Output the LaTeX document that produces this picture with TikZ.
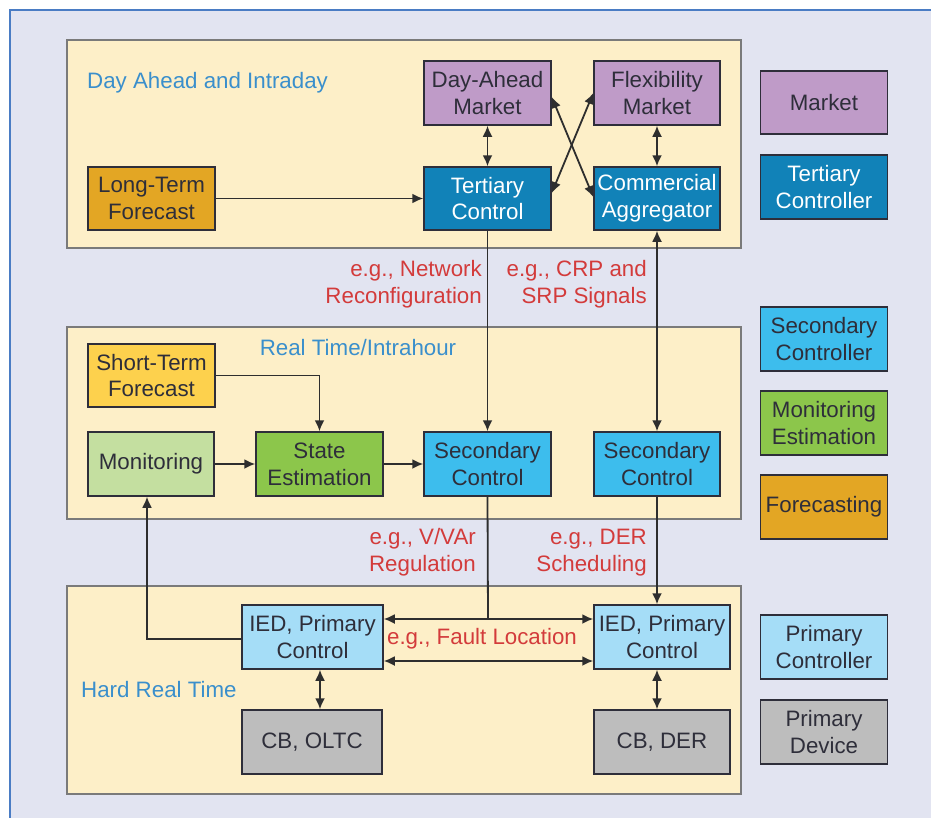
\documentclass[tikz,border=0pt]{standalone}
\usepackage{fontspec}
\setmainfont{Liberation Sans}
\usetikzlibrary{arrows.meta}
\definecolor{bgc}{HTML}{E2E4F1}
\definecolor{framec}{HTML}{4A7CC4}
\definecolor{panelc}{HTML}{FDEFC8}
\definecolor{panelb}{HTML}{7A7A7A}
\definecolor{marketc}{HTML}{BF9BC8}
\definecolor{tertc}{HTML}{1182B8}
\definecolor{secc}{HTML}{3DBDED}
\definecolor{estc}{HTML}{8CC64B}
\definecolor{monc}{HTML}{C4DFA0}
\definecolor{forec}{HTML}{E3A624}
\definecolor{sforec}{HTML}{FDD14D}
\definecolor{primc}{HTML}{A5DDF7}
\definecolor{devc}{HTML}{BDBDBD}
\definecolor{txtc}{HTML}{2E2E3A}
\definecolor{redc}{HTML}{D33B3B}
\definecolor{bluec}{HTML}{3A8FCC}
\definecolor{linec}{HTML}{2E2E2E}
\begin{document}
\begin{tikzpicture}[x=1bp,y=-1bp,
  every node/.style={font=\fontsize{22.4}{26.8}\selectfont},
  box/.style={draw=txtc, line width=1.5bp, inner sep=0pt, align=center,
    text=txtc, minimum width=127bp, minimum height=64bp},
  panel/.style={draw=panelb, fill=panelc, line width=2bp},
  redlbl/.style={text=redc, align=right, inner sep=0pt},
  bluelbl/.style={text=bluec, inner sep=0pt},
  conn/.style={draw=linec, line width=1.8bp},
  tip/.style={-{Latex[length=11bp,width=10bp]}},
  dtip/.style={{Latex[length=11bp,width=10bp]}-{Latex[length=11bp,width=10bp]}}]
\useasboundingbox (0,0) rectangle (931,818);
\fill[white] (0,0) rectangle (931,818);
\fill[bgc] (10,10) rectangle (945,830);
\draw[framec, line width=2.2bp] (10,830) -- (10,10) -- (945,10);
% panels
\draw[panel] (67,40) rectangle (741,248);
\draw[panel] (67,327) rectangle (741,519);
\draw[panel] (67,586) rectangle (741,794);
% panel labels
\node[bluelbl, anchor=west] (lblday) at (87,83) {Day Ahead and Intraday};
\node[bluelbl] (lblrt) at (358,348) {Real Time/Intrahour};
\node[bluelbl, anchor=west] (lblhrt) at (81,690) {Hard Real Time};
% top panel
\node[box, fill=marketc] (dam) at (487.5,93) {Day-Ahead\\Market};
\node[box, fill=marketc, minimum width=126bp] (fm) at (657,93) {Flexibility\\Market};
\node[box, fill=forec, minimum height=63bp] (ltf) at (151.5,198.5) {Long-Term\\Forecast};
\node[box, fill=tertc, text=white, minimum height=63bp] (tc) at (487.5,198.5) {Tertiary\\Control};
\node[box, fill=tertc, text=white, minimum width=126bp, minimum height=63bp] (ca) at (657,198.5) {Commercial\\Aggregator};
% middle panel
\node[box, fill=sforec, minimum height=63bp] (stf) at (151.5,375.5) {Short-Term\\Forecast};
\node[box, fill=monc, minimum width=126bp] (mon) at (151,464) {Monitoring};
\node[box, fill=estc] (se) at (319.5,464) {State\\Estimation};
\node[box, fill=secc] (sc1) at (487.5,464) {Secondary\\Control};
\node[box, fill=secc, minimum width=126bp] (sc2) at (657,464) {Secondary\\Control};
% bottom panel
\node[box, fill=primc, minimum width=141bp] (ied1) at (312.5,637) {IED, Primary\\Control};
\node[box, fill=primc, minimum width=136bp] (ied2) at (662,637) {IED, Primary\\Control};
\node[box, fill=devc, minimum width=140bp] (cbo) at (312,742) {CB, OLTC};
\node[box, fill=devc, minimum width=136bp] (cbd) at (662,742) {CB, DER};
% legend
\node[box, fill=marketc, minimum height=63bp] (lgm) at (824,102.5) {Market};
\node[box, fill=tertc, text=white] (lgt) at (824,187) {Tertiary\\Controller};
\node[box, fill=secc] (lgs) at (824,339) {Secondary\\Controller};
\node[box, fill=estc] (lge) at (824,423) {Monitoring\\Estimation};
\node[box, fill=forec] (lgf) at (824,507) {Forecasting};
\node[box, fill=primc] (lgp) at (824,647) {Primary\\Controller};
\node[box, fill=devc] (lgd) at (824,732) {Primary\\Device};
% red labels
\node[redlbl, anchor=east] (lnr) at (482,284.5) {e.g., Network\\Reconfiguration};
\node[redlbl, anchor=east] (lcrp) at (647,284.5) {e.g., CRP and\\SRP Signals};
\node[redlbl, anchor=east] (lvv) at (476,552.5) {e.g., V/VAr\\Regulation};
\node[redlbl, anchor=east] (lder) at (647,552.5) {e.g., DER\\Scheduling};
\node[redlbl, align=center] (lfl) at (482,639) {e.g., Fault Location};
% connectors
\draw[conn, tip] (ltf.east) -- (tc.west);
\draw[conn, dtip] (dam.south) -- (tc.north);
\draw[conn, dtip] (fm.south) -- (ca.north);
\draw[conn, dtip] (dam.east |- 0,97) -- (ca.west |- 0,197);
\draw[conn, dtip] (fm.west |- 0,93) -- (tc.east |- 0,193);
\draw[conn, tip] (tc.south) -- (sc1.north);
\draw[conn, dtip] (ca.south) -- (sc2.north);
\draw[conn, tip] (stf.east) -| (se.north);
\draw[conn, tip] (mon.east) -- (se.west);
\draw[conn, tip] (se.east) -- (sc1.west);
\coordinate (j1) at (488,619);
\draw[conn] (sc1.south) -- (j1);
\draw[conn, dtip] (ied1.east |- j1) -- (ied2.west |- j1);
\draw[conn, dtip] (ied1.east |- 0,661) -- (ied2.west |- 0,661);
\draw[conn, tip] (sc2.south) -- (sc2.south |- ied2.north);
\coordinate (mj) at (147,639);
\draw[conn, tip] (ied1.west |- mj) -- (mj) -- (mj |- mon.south);
\draw[conn, dtip] (ied1.south -| 320,0) -- (cbo.north -| 320,0);
\draw[conn, dtip] (ied2.south -| 657,0) -- (cbd.north -| 657,0);
\end{tikzpicture}
\end{document}
